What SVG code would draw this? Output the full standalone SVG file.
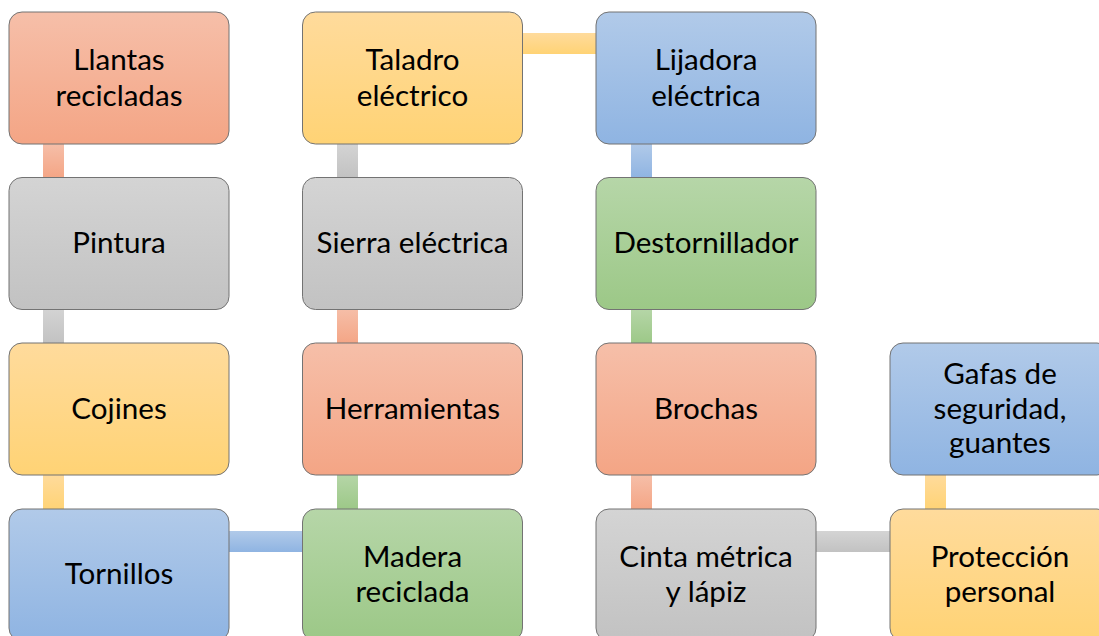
<svg xmlns="http://www.w3.org/2000/svg" width="1099" height="636" viewBox="0 0 1099 636">
<defs>
<linearGradient id="gO" x1="0" y1="0" x2="0" y2="1"><stop offset="0" stop-color="#F6BFA9"/><stop offset="1" stop-color="#F4A585"/></linearGradient>
<linearGradient id="gG" x1="0" y1="0" x2="0" y2="1"><stop offset="0" stop-color="#D4D4D4"/><stop offset="1" stop-color="#C2C2C2"/></linearGradient>
<linearGradient id="gY" x1="0" y1="0" x2="0" y2="1"><stop offset="0" stop-color="#FFDB9C"/><stop offset="1" stop-color="#FFD375"/></linearGradient>
<linearGradient id="gB" x1="0" y1="0" x2="0" y2="1"><stop offset="0" stop-color="#B1CAE9"/><stop offset="1" stop-color="#8FB4E2"/></linearGradient>
<linearGradient id="gN" x1="0" y1="0" x2="0" y2="1"><stop offset="0" stop-color="#B6D6A8"/><stop offset="1" stop-color="#9CC887"/></linearGradient>
</defs>
<style>
.box{stroke:#737373;stroke-width:1}
.t{font-family:Lato,"Open Sans",sans-serif;font-size:29.6px;fill:#000;text-anchor:middle}
.o{fill:url(#gO)}.g{fill:url(#gG)}.y{fill:url(#gY)}.b{fill:url(#gB)}.n{fill:url(#gN)}
</style>
<g id="connectors">
<rect class="o" x="43" y="143" width="21" height="35"/>
<rect class="g" x="43" y="308" width="21" height="36"/>
<rect class="y" x="43" y="474" width="21" height="36"/>
<rect class="b" x="228" y="531" width="75" height="21"/>
<rect class="n" x="337" y="474" width="21" height="36"/>
<rect class="o" x="337" y="308" width="21" height="36"/>
<rect class="g" x="337" y="143" width="21" height="35"/>
<rect class="y" x="521" y="33" width="76" height="21"/>
<rect class="b" x="631" y="143" width="21" height="35"/>
<rect class="n" x="631" y="308" width="21" height="36"/>
<rect class="o" x="631" y="474" width="21" height="36"/>
<rect class="g" x="815" y="531" width="76" height="21"/>
<rect class="y" x="925" y="474" width="21" height="36"/>
</g>
<g id="n-llantas"><rect class="box o" x="9" y="12" width="220" height="132" rx="13"/><text class="t" x="119" y="70">Llantas</text><text class="t" x="119" y="105.5">recicladas</text></g>
<g id="n-pintura"><rect class="box g" x="9" y="177.5" width="220" height="132" rx="13"/><text class="t" x="119" y="253">Pintura</text></g>
<g id="n-cojines"><rect class="box y" x="9" y="343" width="220" height="132" rx="13"/><text class="t" x="119" y="419">Cojines</text></g>
<g id="n-tornillos"><rect class="box b" x="9" y="509" width="220" height="132" rx="13"/><text class="t" x="119" y="584">Tornillos</text></g>
<g id="n-madera"><rect class="box n" x="302.5" y="509" width="220" height="132" rx="13"/><text class="t" x="412.5" y="567">Madera</text><text class="t" x="412.5" y="602">reciclada</text></g>
<g id="n-herramientas"><rect class="box o" x="302.5" y="343" width="220" height="132" rx="13"/><text class="t" x="412.5" y="419">Herramientas</text></g>
<g id="n-sierra"><rect class="box g" x="302.5" y="177.5" width="220" height="132" rx="13"/><text class="t" x="412.5" y="253">Sierra eléctrica</text></g>
<g id="n-taladro"><rect class="box y" x="302.5" y="12" width="220" height="132" rx="13"/><text class="t" x="412.5" y="70">Taladro</text><text class="t" x="412.5" y="105.5">eléctrico</text></g>
<g id="n-lijadora"><rect class="box b" x="596" y="12" width="220" height="132" rx="13"/><text class="t" x="706" y="70">Lijadora</text><text class="t" x="706" y="105.5">eléctrica</text></g>
<g id="n-destornillador"><rect class="box n" x="596" y="177.5" width="220" height="132" rx="13"/><text class="t" x="706" y="253">Destornillador</text></g>
<g id="n-brochas"><rect class="box o" x="596" y="343" width="220" height="132" rx="13"/><text class="t" x="706" y="419">Brochas</text></g>
<g id="n-cinta"><rect class="box g" x="596" y="509" width="220" height="132" rx="13"/><text class="t" x="706" y="567">Cinta métrica</text><text class="t" x="706" y="602">y lápiz</text></g>
<g id="n-proteccion"><rect class="box y" x="890" y="509" width="220" height="132" rx="13"/><text class="t" x="1000" y="567">Protección</text><text class="t" x="1000" y="602">personal</text></g>
<g id="n-gafas"><rect class="box b" x="890" y="343" width="220" height="132" rx="13"/><text class="t" x="1000" y="384">Gafas de</text><text class="t" x="1000" y="419">seguridad,</text><text class="t" x="1000" y="453">guantes</text></g>
</svg>
